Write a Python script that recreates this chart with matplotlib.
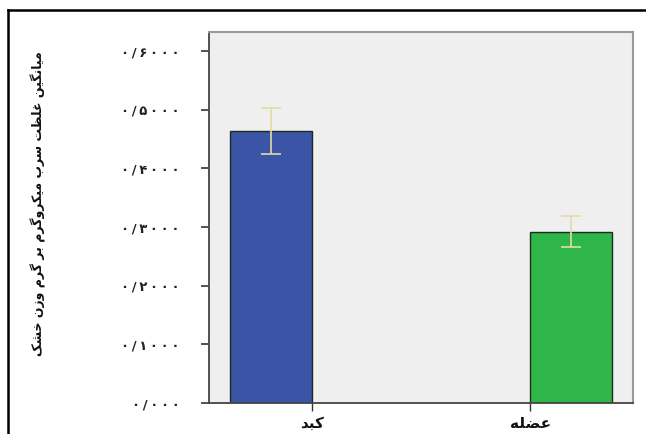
import matplotlib
matplotlib.use("Agg")
import matplotlib.pyplot as plt
from matplotlib.lines import Line2D

# ---------------- data ----------------
categories = ["کبد", "عضله"]
means = [0.4636, 0.2915]
err_low = [0.424, 0.266]
err_high = [0.503, 0.319]
yticks = [0.0, 0.1, 0.2, 0.3, 0.4, 0.5, 0.6]
ytick_labels = ["۰/۰۰۰", "۰/۱۰۰۰", "۰/۲۰۰۰", "۰/۳۰۰۰", "۰/۴۰۰۰", "۰/۵۰۰۰", "۰/۶۰۰۰"]
ylabel = "میانگین غلظت سرب میکروگرم بر گرم وزن خشک"
bar_colors = ["#3a55a6", "#2fb64a"]

# ---------------- simple Persian shaping ----------------
FORMS = {  # isolated, final, initial, medial
    "ا": ("\uFE8D", "\uFE8E", None, None),
    "ب": ("\uFE8F", "\uFE90", "\uFE91", "\uFE92"),
    "ت": ("\uFE95", "\uFE96", "\uFE97", "\uFE98"),
    "خ": ("\uFEA5", "\uFEA6", "\uFEA7", "\uFEA8"),
    "د": ("\uFEA9", "\uFEAA", None, None),
    "ر": ("\uFEAD", "\uFEAE", None, None),
    "ز": ("\uFEAF", "\uFEB0", None, None),
    "س": ("\uFEB1", "\uFEB2", "\uFEB3", "\uFEB4"),
    "ش": ("\uFEB5", "\uFEB6", "\uFEB7", "\uFEB8"),
    "ض": ("\uFEBD", "\uFEBE", "\uFEBF", "\uFEC0"),
    "ظ": ("\uFEC5", "\uFEC6", "\uFEC7", "\uFEC8"),
    "ع": ("\uFEC9", "\uFECA", "\uFECB", "\uFECC"),
    "غ": ("\uFECD", "\uFECE", "\uFECF", "\uFED0"),
    "ل": ("\uFEDD", "\uFEDE", "\uFEDF", "\uFEE0"),
    "م": ("\uFEE1", "\uFEE2", "\uFEE3", "\uFEE4"),
    "ن": ("\uFEE5", "\uFEE6", "\uFEE7", "\uFEE8"),
    "ه": ("\uFEE9", "\uFEEA", "\uFEEB", "\uFEEC"),
    "و": ("\uFEED", "\uFEEE", None, None),
    "ک": ("\uFB8E", "\uFB8F", "\uFB90", "\uFB91"),
    "گ": ("\uFB92", "\uFB93", "\uFB94", "\uFB95"),
    "ی": ("\uFBFC", "\uFBFD", "\uFBFE", "\uFBFF"),
}


def shape(text):
    out = []
    n = len(text)
    for i, ch in enumerate(text):
        if ch not in FORMS:
            out.append(ch)
            continue
        prev = text[i - 1] if i > 0 else None
        nxt = text[i + 1] if i < n - 1 else None
        join_prev = prev in FORMS and FORMS[prev][2] is not None
        join_next = nxt in FORMS and FORMS[ch][2] is not None
        iso, fin, ini, med = FORMS[ch]
        if join_prev and join_next:
            out.append(med)
        elif join_prev:
            out.append(fin)
        elif join_next:
            out.append(ini)
        else:
            out.append(iso)
    return "".join(out)[::-1]


def spaced(label):
    return "\u2009".join(label)


plt.rcParams["font.family"] = ["DejaVu Sans"]

W, H = 646, 434
fig = plt.figure(figsize=(W / 100, H / 100), dpi=100)
left, right, top, bottom = 209, 633, 32, 403
ax = fig.add_axes([left / W, 1 - bottom / H, (right - left) / W, (bottom - top) / H])
ax.set_facecolor("#efefef")

x = [0, 1]
width = 0.273
ax.bar(x, means, width=width, color=bar_colors, edgecolor="#1e2a1e", linewidth=1.0, zorder=2)
yerr = [[m - lo for m, lo in zip(means, err_low)], [hi - m for m, hi in zip(means, err_high)]]
ax.errorbar(x, means, yerr=yerr, fmt="none", ecolor="#e2dba6", elinewidth=1.2,
            capsize=7, capthick=1.2, zorder=3)

ax.set_xlim(-0.206, 1.205)
ax.set_ylim(0, 0.6325)

ax.set_yticks(yticks)
ax.set_yticklabels([spaced(t) for t in ytick_labels], fontsize=9.5, fontweight="bold", color="#222222")
ax.tick_params(axis="y", length=6, width=1.2, color="#333333", pad=15)

ax.set_xticks([0 + width / 2, 1 - width / 2])
ax.set_xticklabels([shape(c) for c in categories], fontsize=11, fontweight="bold", color="#111111")
ax.tick_params(axis="x", length=6, width=1.0, color="#333333", pad=3)

for s in ["left", "bottom"]:
    ax.spines[s].set_color("#444444")
    ax.spines[s].set_linewidth(1.3)
for s in ["top", "right"]:
    ax.spines[s].set_color("#9a9a9a")
    ax.spines[s].set_linewidth(1.5)

fig.text(38 / W, 1 - 204 / H, shape(ylabel), rotation=90, ha="center", va="center",
         fontsize=9, fontweight="bold", color="#111111")

# outer frame (top and left edges)
fig.add_artist(Line2D([8 / W, 1.0], [1 - 10 / H, 1 - 10 / H], color="black", linewidth=1.8,
                      transform=fig.transFigure))
fig.add_artist(Line2D([8 / W, 8 / W], [0, 1 - 10 / H], color="black", linewidth=1.8,
                      transform=fig.transFigure))

fig.savefig("out.png", dpi=100)
